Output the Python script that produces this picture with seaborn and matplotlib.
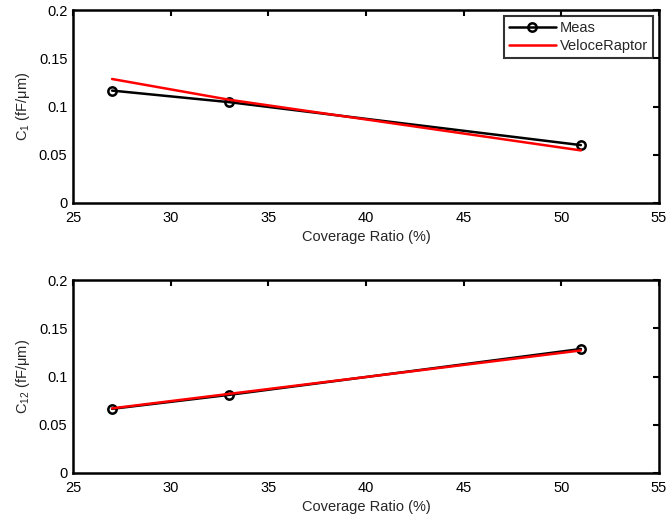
import matplotlib
matplotlib.use("Agg")
import matplotlib.pyplot as plt
import seaborn as sns
import pandas as pd

# ======================
# DATA
# ======================
coverage = [27, 33, 51]
c1_meas = [0.1165, 0.1045, 0.0600]
c1_vr = [0.1285, 0.1070, 0.0545]
c12_meas = [0.0665, 0.0810, 0.1285]
c12_vr = [0.0670, 0.0820, 0.1270]

x_ticks = [25, 30, 35, 40, 45, 50, 55]
y_ticks = [0, 0.05, 0.1, 0.15, 0.2]
y_ticklabels = ["0", "0.05", "0.1", "0.15", "0.2"]

FS = 10.5

sns.set_style("white")
plt.rcParams['font.family'] = ['Liberation Sans', 'DejaVu Sans']
plt.rcParams['mathtext.fontset'] = 'custom'
plt.rcParams['mathtext.rm'] = 'Liberation Sans'
plt.rcParams['mathtext.it'] = 'Liberation Sans'

fig = plt.figure(figsize=(6.68, 5.17), dpi=100)
ax1 = fig.add_axes([73/668, 1 - 203/517, 586/668, 193/517])
ax2 = fig.add_axes([73/668, 1 - 473/517, 586/668, 193/517])

panels = [
    (ax1, c1_meas, c1_vr, r"C$_1$ (fF/$\mathrm{\mu}$m)"),
    (ax2, c12_meas, c12_vr, r"C$_{12}$ (fF/$\mathrm{\mu}$m)"),
]

for ax, meas, vr, ylab in panels:
    df = pd.DataFrame({"x": coverage, "Meas": meas, "VeloceRaptor": vr})
    sns.lineplot(data=df, x="x", y="Meas", ax=ax, color="black", lw=1.8,
                 marker="o", markersize=6, markerfacecolor="none",
                 markeredgecolor="black", markeredgewidth=1.8, label="Meas")
    sns.lineplot(data=df, x="x", y="VeloceRaptor", ax=ax, color="red", lw=1.8,
                 label="VeloceRaptor")
    ax.set_xlim(25, 55)
    ax.set_ylim(0, 0.2)
    ax.set_xticks(x_ticks)
    ax.set_yticks(y_ticks)
    ax.set_yticklabels(y_ticklabels)
    ax.set_xlabel("Coverage Ratio (%)", fontsize=FS, labelpad=3)
    ax.set_ylabel(ylab, fontsize=FS, labelpad=5)
    ax.tick_params(direction="in", length=4, width=1.5, top=True, right=True,
                   labelsize=FS, colors="black", pad=4)
    ax.tick_params(axis="x", pad=6)
    for sp in ax.spines.values():
        sp.set_visible(True)
        sp.set_linewidth(1.8)
        sp.set_color("black")

leg = ax1.legend(loc="upper right", frameon=True, fancybox=False,
                 borderaxespad=0.4, handlelength=3.2, handletextpad=0.3,
                 borderpad=0.35, labelspacing=0.3, fontsize=FS)
leg.get_frame().set_edgecolor("black")
leg.get_frame().set_linewidth(1.5)
ax2.get_legend().remove()

fig.savefig("out.png", dpi=100)
